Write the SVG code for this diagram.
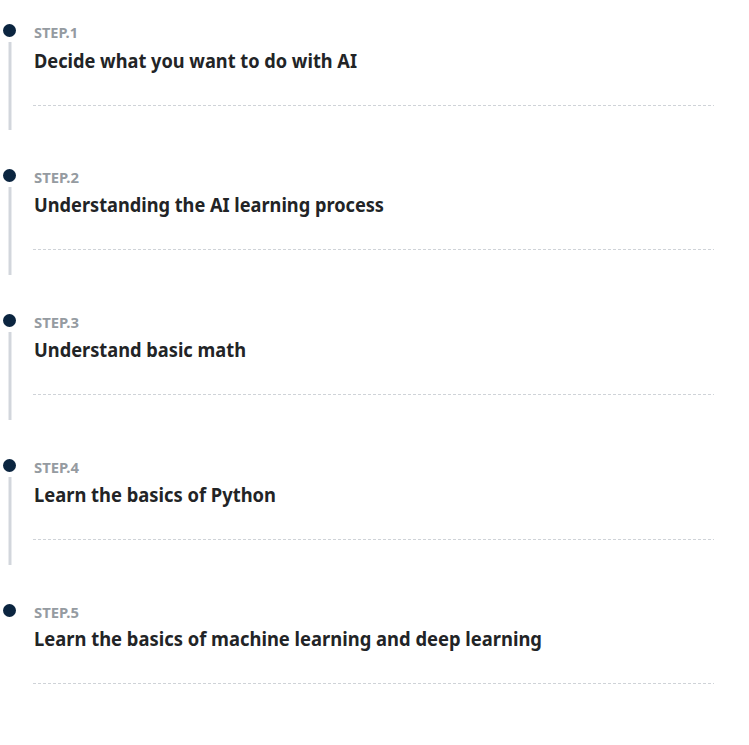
<svg xmlns="http://www.w3.org/2000/svg" width="749" height="745" viewBox="0 0 749 745">
<style>
.dot{fill:#0b2540}
.rail{stroke:#d2d6dc;stroke-width:3}
.sep{stroke:#cfd3d8;stroke-width:1;stroke-dasharray:3 2}
.step{font-family:"Noto Sans","Liberation Sans",sans-serif;font-weight:700;font-size:13.5px;fill:#959ba1}
.title{font-family:"Noto Sans","Liberation Sans",sans-serif;font-weight:700;font-size:19px;fill:#222426}
</style>
<rect width="749" height="745" fill="#ffffff"/>
<g id="connectors">
<line class="rail" x1="10" y1="42" x2="10" y2="130"/>
<line class="rail" x1="10" y1="187" x2="10" y2="275"/>
<line class="rail" x1="10" y1="332" x2="10" y2="420"/>
<line class="rail" x1="10" y1="477" x2="10" y2="565"/>
</g>
<g id="step1">
<circle class="dot" cx="9.5" cy="30.5" r="6.5"/>
<text class="step" x="34" y="37.5" textLength="44" lengthAdjust="spacingAndGlyphs">STEP.1</text>
<text class="title" x="34" y="68" textLength="323" lengthAdjust="spacingAndGlyphs">Decide what you want to do with AI</text>
<line class="sep" x1="33" y1="105.5" x2="714" y2="105.5"/>
</g>
<g id="step2">
<circle class="dot" cx="9.5" cy="175.5" r="6.5"/>
<text class="step" x="34" y="182.5" textLength="45" lengthAdjust="spacingAndGlyphs">STEP.2</text>
<text class="title" x="34" y="212" textLength="350" lengthAdjust="spacingAndGlyphs">Understanding the AI learning process</text>
<line class="sep" x1="33" y1="249.5" x2="714" y2="249.5"/>
</g>
<g id="step3">
<circle class="dot" cx="9.5" cy="320.5" r="6.5"/>
<text class="step" x="34" y="327.5" textLength="45" lengthAdjust="spacingAndGlyphs">STEP.3</text>
<text class="title" x="34" y="357" textLength="212" lengthAdjust="spacingAndGlyphs">Understand basic math</text>
<line class="sep" x1="33" y1="394.5" x2="714" y2="394.5"/>
</g>
<g id="step4">
<circle class="dot" cx="9.5" cy="465.5" r="6.5"/>
<text class="step" x="34" y="472.5" textLength="45" lengthAdjust="spacingAndGlyphs">STEP.4</text>
<text class="title" x="34" y="502" textLength="242" lengthAdjust="spacingAndGlyphs">Learn the basics of Python</text>
<line class="sep" x1="33" y1="539.5" x2="714" y2="539.5"/>
</g>
<g id="step5">
<circle class="dot" cx="9.5" cy="610.5" r="6.5"/>
<text class="step" x="34" y="617.5" textLength="45" lengthAdjust="spacingAndGlyphs">STEP.5</text>
<text class="title" x="34" y="646" textLength="508" lengthAdjust="spacingAndGlyphs">Learn the basics of machine learning and deep learning</text>
<line class="sep" x1="33" y1="683.5" x2="714" y2="683.5"/>
</g>
</svg>
